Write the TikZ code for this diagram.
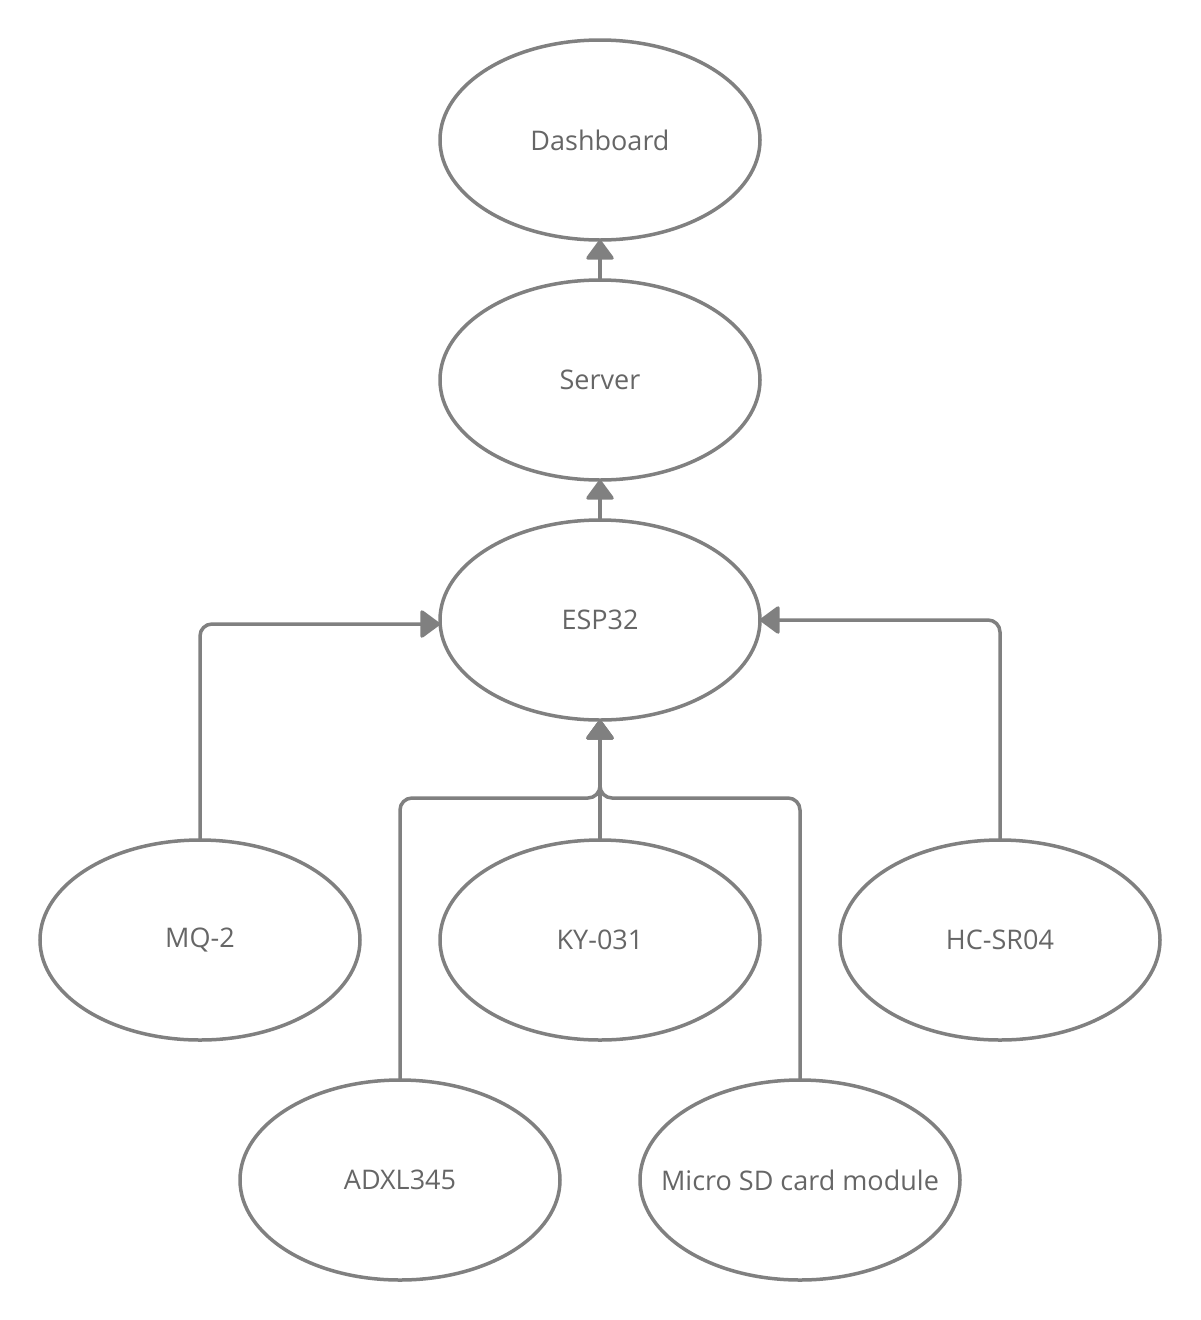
\documentclass[tikz,border=0pt]{standalone}
\usepackage{fontspec}
\setmainfont{Open Sans}
\usetikzlibrary{shapes.geometric,arrows.meta}
\definecolor{linec}{HTML}{808080}
\definecolor{textc}{HTML}{666666}
\begin{document}
\begin{tikzpicture}[x=1pt,y=-1pt,
  oval/.style={ellipse, draw=linec, line width=3.5pt, minimum width=320pt, minimum height=200pt, inner sep=0pt, outer sep=0pt, text=textc, font=\fontsize{27}{32}\selectfont},
  conn/.style={draw=linec, line width=3.5pt, rounded corners=12pt, -{Triangle[width=30pt,length=21pt,round]}}]
\useasboundingbox[fill=white] (0,0) rectangle (1200,1320);
\node[oval] (dash) at (600,140) {\makebox[0pt]{Dashboard}};
\node[oval] (srv) at (600,380) {\makebox[0pt]{Server}};
\node[oval] (esp) at (600,620) {\makebox[0pt]{ESP32}};
\node[oval] (mq) at (200,940) {\makebox[0pt]{MQ-2}};
\node[oval] (ky) at (600,940) {\makebox[0pt]{KY-031}};
\node[oval] (hc) at (1000,940) {\makebox[0pt]{HC-SR04}};
\node[oval] (adxl) at (400,1180) {\makebox[0pt]{ADXL345}};
\node[oval] (sd) at (800,1180) {\makebox[0pt]{Micro SD card module}};
\coordinate (mqend) at ([yshift=-4pt]esp.west);
\coordinate (adxlc) at (400,798);
\coordinate (sdc) at (800,798);
\coordinate (midc) at (600,798);
\draw[conn] (srv.north) -- (dash.south);
\draw[conn] (esp.north) -- (srv.south);
\draw[conn] (mq.north) |- (mqend);
\draw[conn] (hc.north) |- (esp.east);
\draw[conn] (ky.north) -- (esp.south);
\draw[conn] (adxl.north) -- (adxlc) -- (midc) -- (esp.south);
\draw[conn] (sd.north) -- (sdc) -- (midc) -- (esp.south);
\end{tikzpicture}
\end{document}
